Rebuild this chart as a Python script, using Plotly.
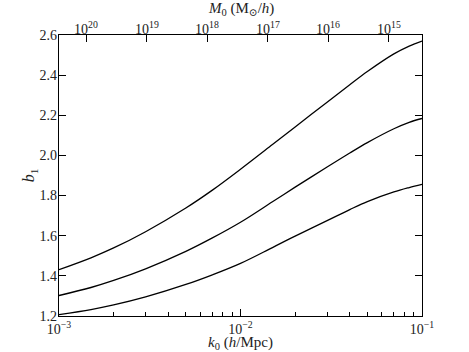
import numpy as np
import plotly.graph_objs as go

# wavenumber k0 (h/Mpc) where the curves were read
k0 = [0.001, 0.0015, 0.002, 0.003, 0.005, 0.007, 0.01, 0.015, 0.02, 0.03, 0.04, 0.05, 0.07, 0.085, 0.1]

# b1 for the three curves (top, middle, bottom)
b1_top = [1.431, 1.490, 1.539, 1.620, 1.738, 1.827, 1.931, 2.054, 2.142, 2.265, 2.352, 2.418, 2.506, 2.545, 2.570]
b1_mid = [1.302, 1.342, 1.377, 1.435, 1.522, 1.589, 1.667, 1.769, 1.842, 1.942, 2.012, 2.064, 2.133, 2.165, 2.184]
b1_low = [1.207, 1.232, 1.255, 1.295, 1.357, 1.405, 1.462, 1.541, 1.598, 1.675, 1.730, 1.770, 1.818, 1.840, 1.856]

# top axis: mass exponents, M0 ~ k0^-3 with M0 = 1e15 at log k0 = -1.182
mass_exp = [20, 19, 18, 17, 16, 15]
mass_k = [10 ** (-1.182 - (m - 15) / 3.0) for m in mass_exp]

y_ticks = [1.2, 1.4, 1.6, 1.8, 2.0, 2.2, 2.4, 2.6]

font_family = 'Liberation Serif, DejaVu Serif, serif'

fig = go.Figure()

for y in [b1_top, b1_mid, b1_low]:
    fig.add_trace(go.Scatter(x=k0, y=y, mode='lines', line=dict(color='black', width=1.3, shape='spline'),
                             showlegend=False, hoverinfo='skip'))

# invisible trace so the top / right axes are drawn
fig.add_trace(go.Scatter(x=k0, y=b1_top, xaxis='x2', yaxis='y2', mode='lines', line=dict(width=0),
                         opacity=0, showlegend=False, hoverinfo='skip'))

minor_k = [m * 10 ** e for e in [-3, -2] for m in range(2, 10)]

tick_style = dict(ticks='inside', ticklen=7, tickwidth=1, tickcolor='black',
                  showline=True, linecolor='black', linewidth=1.2,
                  tickfont=dict(color='#222', size=14),
                  showgrid=False, zeroline=False, automargin=False)

fig.update_layout(
    width=469, height=352,
    margin=dict(l=59, r=47, t=35, b=36),
    paper_bgcolor='white', plot_bgcolor='white',
    font=dict(family=font_family, size=14, color='#222'),
    xaxis=dict(
        type='log', range=[-3, -1],
        tickvals=[0.001, 0.01, 0.1],
        ticktext=['10<sup>−3</sup>', '10<sup>−2</sup>', '10<sup>−1</sup>'],
        minor=dict(tickvals=minor_k, ticks='inside', ticklen=4, tickwidth=1, tickcolor='black', showgrid=False),
        title=dict(text='<i>k</i><sub>0</sub> (<i>h</i>/Mpc)', font=dict(size=15), standoff=0),
        **tick_style,
    ),
    xaxis2=dict(
        type='log', range=[-3, -1], overlaying='x', side='top', anchor='y',
        tickvals=mass_k, showticklabels=False,
        **tick_style,
    ),
    yaxis=dict(
        range=[1.2, 2.6],
        tickvals=y_ticks,
        ticktext=['%.1f' % v for v in y_ticks],
        ticklabelstandoff=-2,
        title=dict(text='<i>b</i><sub>1</sub>', font=dict(size=16), standoff=0),
        **tick_style,
    ),
    yaxis2=dict(
        range=[1.2, 2.6], overlaying='y', side='right', anchor='x',
        tickvals=y_ticks, showticklabels=False,
        **tick_style,
    ),
)

# top axis labels and title, placed just above the frame
for m, k in zip(mass_exp, mass_k):
    fig.add_annotation(x=np.log10(k), y=1, xref='x', yref='paper', yanchor='bottom', yshift=-4,
                       text='10<sup>%d</sup>' % m, showarrow=False, font=dict(size=14, color='#222'))
fig.add_annotation(x=0.5, y=1, xref='paper', yref='paper', yanchor='middle', yshift=26,
                   text='<i>M</i><sub>0</sub> (M<sub>⊙</sub>/<i>h</i>)', showarrow=False,
                   font=dict(size=15, color='#222'))

fig.write_html("out.html", config={'displayModeBar': False},
               post_script="document.body.style.margin='0';")
